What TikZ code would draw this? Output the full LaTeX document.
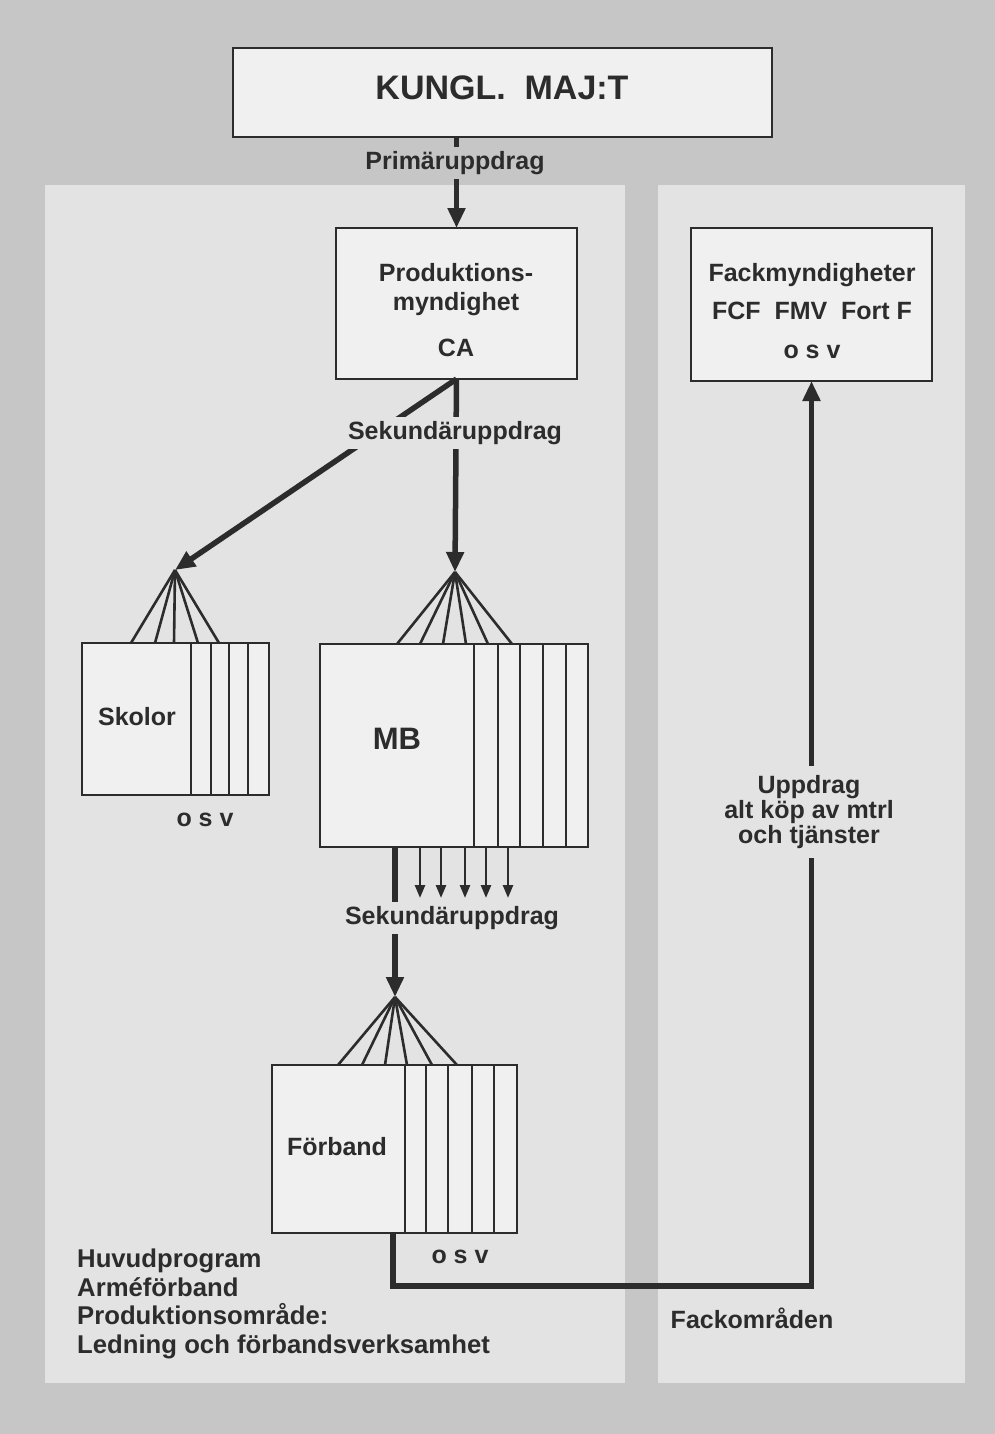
\documentclass[tikz,border=0pt]{standalone}
\usepackage{fontspec}
\setmainfont{Liberation Sans}
\usetikzlibrary{arrows.meta,calc}
\definecolor{paper}{HTML}{C6C6C6}
\definecolor{panel}{HTML}{E3E3E3}
\definecolor{boxfill}{HTML}{F0F0F0}
\definecolor{ink}{HTML}{2C2C2C}

\tikzset{
  box/.style={draw=ink, line width=2.4pt, fill=boxfill, inner sep=0pt, outer sep=0pt},
  txt/.style={text=ink, font=\bfseries\fontsize{25}{29}\selectfont, align=center, inner sep=0pt},
  tag/.style={txt, fill=panel, inner xsep=4pt, inner ysep=4pt},
  trunk/.style={draw=ink, line width=5.5pt},
  trunkarrow/.style={trunk, -{Triangle[length=20pt,width=17pt]}},
  twig/.style={draw=ink, line width=2.6pt},
  twigarrow/.style={twig, -{Triangle[length=13pt,width=10pt]}},
  strip/.style={draw=ink, line width=2.2pt},
}

\begin{document}
\begin{tikzpicture}[x=1pt, y=-1pt]
  % page and the two light panels
  \fill[paper] (0,0) rectangle (995,1434);
  \useasboundingbox (0,0) rectangle (995,1434);
  \fill[panel] (45,185) rectangle (625,1383);
  \fill[panel] (658,185) rectangle (965,1383);

  % boxes
  \node[box, minimum width=539pt, minimum height=89pt] (kung) at (502.5,92.5) {};
  \node[txt, font=\bfseries\fontsize{34}{36}\selectfont] (kungt) at (502,88) {KUNGL.\ \ MAJ:T};

  \node[box, minimum width=241pt, minimum height=151pt] (ca) at (456.5,303.5) {};
  \node[txt] (cat) at (456,310) {Produktions-\\myndighet\\[17pt]CA};

  \node[box, minimum width=241pt, minimum height=153pt] (fack) at (811.5,304.5) {};
  \node[txt, font=\bfseries\fontsize{25}{38.5}\selectfont] (fackt) at (812,311)
    {Fackmyndigheter\\FCF\ \ FMV\ \ Fort F\\o s v};

  \node[box, minimum width=187pt, minimum height=152pt] (sk) at (175.5,719) {};
  \node[txt] (skt) at (137,717) {Skolor};
  \node[txt] (skosv) at (205,820) {o s v};

  \node[box, minimum width=268pt, minimum height=203pt] (mb) at (454,745.5) {};
  \node[txt, font=\bfseries\fontsize{31}{33}\selectfont] (mbt) at (397,739) {MB};

  \node[box, minimum width=245pt, minimum height=168pt] (fb) at (394.5,1149) {};
  \node[txt] (fbt) at (337,1147) {Förband};
  \node[txt] (fbosv) at (460,1257) {o s v};

  % stacked sub-units drawn as strips on the right of each box
  \foreach \dx in {109,129,147,166}
    \draw[strip] ([xshift=\dx pt]sk.north west) -- ([xshift=\dx pt]sk.south west);
  \foreach \dx in {154,178,200,223,246}
    \draw[strip] ([xshift=\dx pt]mb.north west) -- ([xshift=\dx pt]mb.south west);
  \foreach \dx in {133,154,176,200,222}
    \draw[strip] ([xshift=\dx pt]fb.north west) -- ([xshift=\dx pt]fb.south west);

  % fan points above each box
  \coordinate (skapex) at (175,570);
  \coordinate (mbapex) at (455,572);
  \coordinate (fbapex) at (395,997);
  \foreach \dx in {49,73,92,116,137}
    \draw[twig] (skapex) -- ([xshift=\dx pt]sk.north west);
  \foreach \dx in {77,100,123,146,168,192}
    \draw[twig] (mbapex) -- ([xshift=\dx pt]mb.north west);
  \foreach \dx in {66,90,113,135,160,185}
    \draw[twig] (fbapex) -- ([xshift=\dx pt]fb.north west);

  % primary assignment
  \draw[trunkarrow] (ca.north |- kung.south) -- (ca.north);

  % secondary assignments from CA
  \draw[trunkarrow] (ca.south) -- (mbapex);
  \draw[trunkarrow] (ca.south) -- (skapex);

  % secondary assignments from MB
  \coordinate (mbout) at ([xshift=75pt]mb.south west);
  \draw[trunkarrow] (mbout) -- (fbapex);
  \foreach \dx in {100,121,145,166,188}
    \draw[twigarrow] ([xshift=\dx pt]mb.south west) -- ++(0,51);

  % specialist assignments back to the authorities
  \coordinate (bot) at (0,1286);
  \coordinate (fbout) at ([xshift=121pt]fb.south west);
  \draw[trunkarrow, line join=miter] (fbout) |- (fack.south |- bot) -- (fack.south);

  % labels on the connectors
  \node[tag, fill=paper] (prim) at (455,163) {Primäruppdrag};
  \node[tag] (sek1) at (455,433) {Sekundäruppdrag};
  \node[tag] (sek2) at (452,918) {Sekundäruppdrag};
  \node[tag, inner ysep=9pt, font=\bfseries\fontsize{25}{25}\selectfont] (uppd) at (809,812)
    {Uppdrag\\alt köp av mtrl\\och tjänster};
  \node[txt] (fackomr) at (752,1318) {Fackområden};
  \node[txt, align=left, anchor=north west, font=\bfseries\fontsize{25.7}{28.5}\selectfont] (legend) at (77,1249)
    {Huvudprogram\\Arméförband\\Produktionsområde:\\Ledning och förbandsverksamhet};
\end{tikzpicture}
\end{document}
